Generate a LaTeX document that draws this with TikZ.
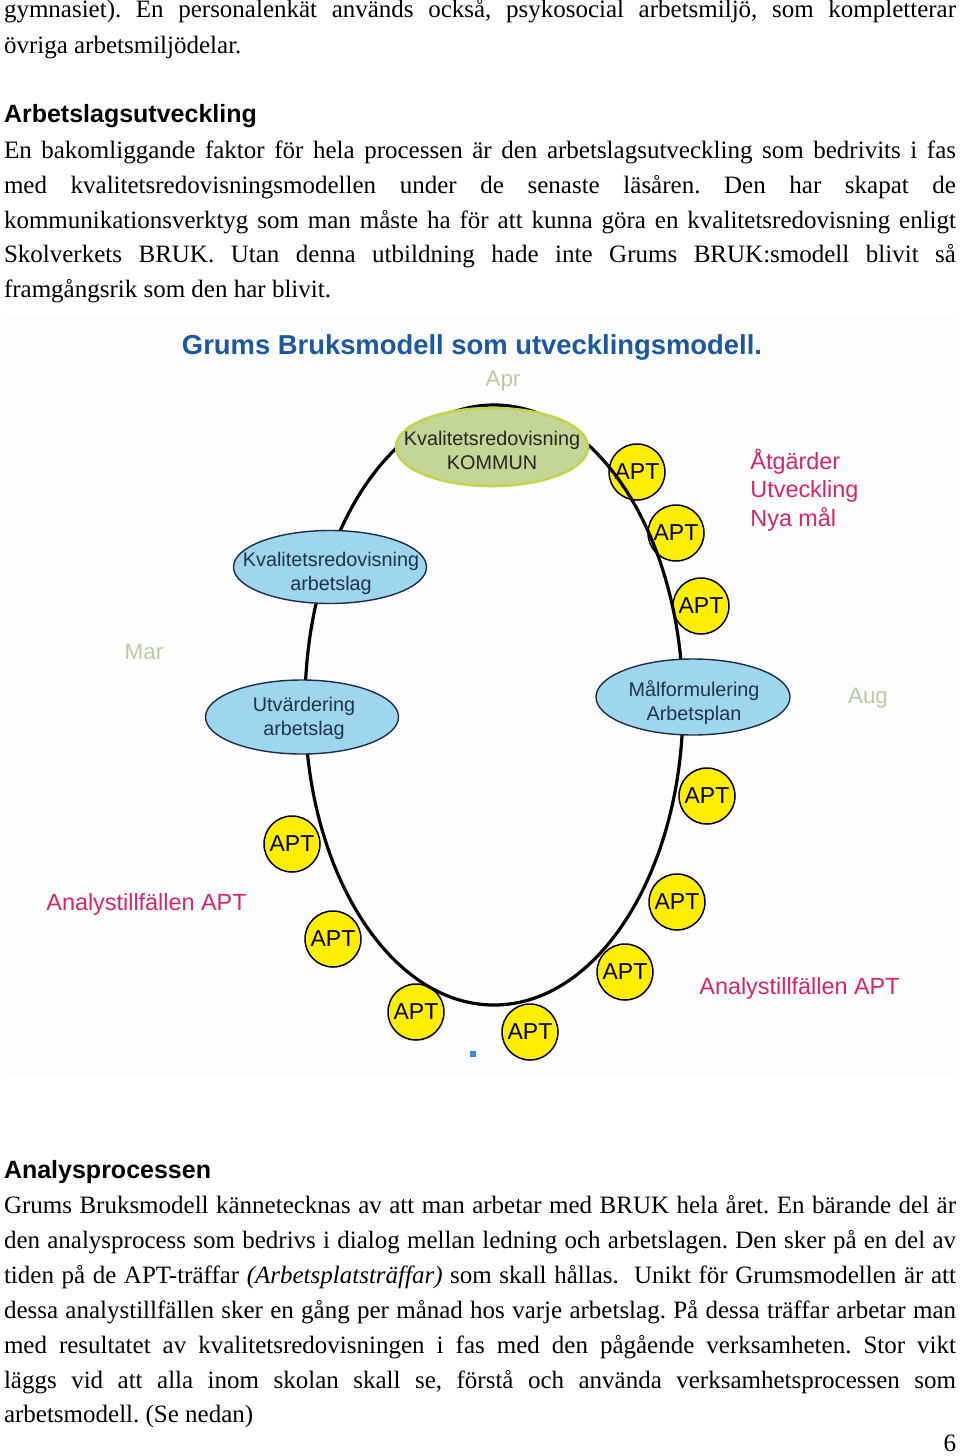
\documentclass[tikz,border=0pt]{standalone}
\usepackage{fontspec}
\setmainfont{Liberation Serif}
\newfontfamily\arialfont{Liberation Sans}
\usetikzlibrary{shapes.geometric}
\definecolor{titleblue}{RGB}{28,88,160}
\definecolor{monthgreen}{RGB}{185,204,160}
\definecolor{pinkred}{RGB}{214,36,112}
\definecolor{greenfill}{RGB}{196,214,150}
\definecolor{greenborder}{RGB}{196,210,80}
\definecolor{bluefill}{RGB}{158,214,238}
\definecolor{blueborder}{RGB}{30,45,75}
\definecolor{bluetext}{RGB}{35,50,75}
\definecolor{aptyellow}{RGB}{255,238,0}
\definecolor{dotblue}{RGB}{70,130,230}
\definecolor{panelbg}{RGB}{253,253,253}
\newcommand\justline[1]{\makebox[476pt][s]{#1}}
\frenchspacing
\begin{document}
\begin{tikzpicture}[x=0.5pt,y=-0.5pt,
  body/.style={anchor=base west, inner sep=0, outer sep=0, font=\frenchspacing\fontsize{12.5}{15}\selectfont},
  head/.style={anchor=base west, inner sep=0, outer sep=0, font=\arialfont\bfseries\fontsize{12.5}{15}\selectfont},
  month/.style={inner sep=0, text=monthgreen, font=\arialfont\fontsize{11.2}{13}\selectfont},
  pinklabel/.style={anchor=west, inner sep=0, text=pinkred, align=left, font=\arialfont\fontsize{11.7}{14.25}\selectfont},
  apt/.style={circle, draw=black, line width=0.75pt, fill=aptyellow, minimum size=28pt, inner sep=0, font=\arialfont\fontsize{11.5}{13}\selectfont},
  greenell/.style={ellipse, draw=greenborder, line width=1.3pt, fill=greenfill, inner sep=0},
  blueell/.style={ellipse, draw=blueborder, line width=0.7pt, fill=bluefill, inner sep=0},
  elltext/.style={align=center, inner sep=0, font=\arialfont\fontsize{9.9}{12}\selectfont},
]
\useasboundingbox (0,0) rectangle (960,1456);
\fill[white] (0,0) rectangle (960,1456);

% ---- text above the figure
\node[body] (t1) at (4,18) {\justline{gymnasiet). En personalenkät används också, psykosocial arbetsmiljö, som kompletterar}};
\node[body] (t2) at (4,53) {övriga arbetsmiljödelar.};
\node[head] (h1) at (4,122) {Arbetslagsutveckling};
\node[body] (p1) at (4,158) {\justline{En bakomliggande faktor för hela processen är den arbetslagsutveckling som bedrivits i fas}};
\node[body] (p2) at (4,193) {\justline{med kvalitetsredovisningsmodellen under de senaste läsåren. Den har skapat de}};
\node[body] (p3) at (4,228) {\justline{kommunikationsverktyg som man måste ha för att kunna göra en kvalitetsredovisning enligt}};
\node[body] (p4) at (4,262) {\justline{Skolverkets BRUK. Utan denna utbildning hade inte Grums BRUK:smodell blivit så}};
\node[body] (p5) at (4,297) {framgångsrik som den har blivit.};

% ---- figure panel
\fill[panelbg] (4,315) rectangle (956,1075);
\node[inner sep=0, text=titleblue, font=\arialfont\bfseries\fontsize{13.7}{16}\selectfont] (title) at (472,347) {Grums Bruksmodell som utvecklingsmodell.};
\node[month] (apr) at (503,381) {Apr};
\node[month] (mar) at (144,652) {Mar};
\node[month] (aug) at (868,698) {Aug};
\node[pinklabel] (atg) at (750,490) {Åtgärder\\Utveckling\\Nya mål};
\node[pinklabel] (anl) at (46,904) {Analystillfällen APT};
\node[pinklabel] (anr) at (699,988) {Analystillfällen APT};

% APT circles
\node[apt] (a1) at (637,472) {APT};
\node[apt] (a2) at (676,533) {APT};
\node[apt] (a3) at (701,606) {APT};
\node[apt] (a4) at (707,796) {APT};
\node[apt] (a5) at (677,902) {APT};
\node[apt] (a6) at (625,972) {APT};
\node[apt] (a7) at (530,1032) {APT};
\node[apt] (a8) at (416,1012) {APT};
\node[apt] (a9) at (333,939) {APT};
\node[apt] (a10) at (292,844) {APT};

% the cycle
\node[ellipse, draw=black, line width=1.6pt, minimum width=189pt, minimum height=300pt, inner sep=0] (loop) at (494,705) {};

% stations on the cycle
\node[greenell, minimum width=96pt, minimum height=39pt] (kom) at (492,447) {};
\node[elltext, text=black!85] (komt) at (492,450) {Kvalitetsredovisning\\KOMMUN};
\node[blueell, minimum width=96.5pt, minimum height=36.5pt] (kra) at (330,567) {};
\node[elltext, text=bluetext] (krat) at (331,573) {Kvalitetsredovisning\\arbetslag};
\node[blueell, minimum width=96.5pt, minimum height=37pt] (utv) at (302,717) {};
\node[elltext, text=bluetext] (utvt) at (304,718) {Utvärdering\\arbetslag};
\node[blueell, minimum width=97pt, minimum height=38pt] (mal) at (693,697) {};
\node[elltext, text=bluetext] (malt) at (694,703) {Målformulering\\Arbetsplan};

\fill[dotblue] (469.5,1050.5) rectangle (475.5,1056.5);

% ---- text below the figure
\node[head] (h2) at (4,1178) {Analysprocessen};
\node[body] (q1) at (4,1213) {\justline{Grums Bruksmodell kännetecknas av att man arbetar med BRUK hela året. En bärande del är}};
\node[body] (q2) at (4,1248) {\justline{den analysprocess som bedrivs i dialog mellan ledning och arbetslagen. Den sker på en del av}};
\node[body] (q3) at (4,1283) {\justline{tiden på de APT-träffar \textit{(Arbetsplatsträffar)} som skall hållas.\ \ Unikt för Grumsmodellen är att}};
\node[body] (q4) at (4,1318) {\justline{dessa analystillfällen sker en gång per månad hos varje arbetslag. På dessa träffar arbetar man}};
\node[body] (q5) at (4,1353) {\justline{med resultatet av kvalitetsredovisningen i fas med den pågående verksamheten. Stor vikt}};
\node[body] (q6) at (4,1388) {\justline{läggs vid att alla inom skolan skall se, förstå och använda verksamhetsprocessen som}};
\node[body] (q7) at (4,1422) {arbetsmodell. (Se nedan)};
\node[body, anchor=base east] (pg) at (956,1451) {6};
\end{tikzpicture}
\end{document}
